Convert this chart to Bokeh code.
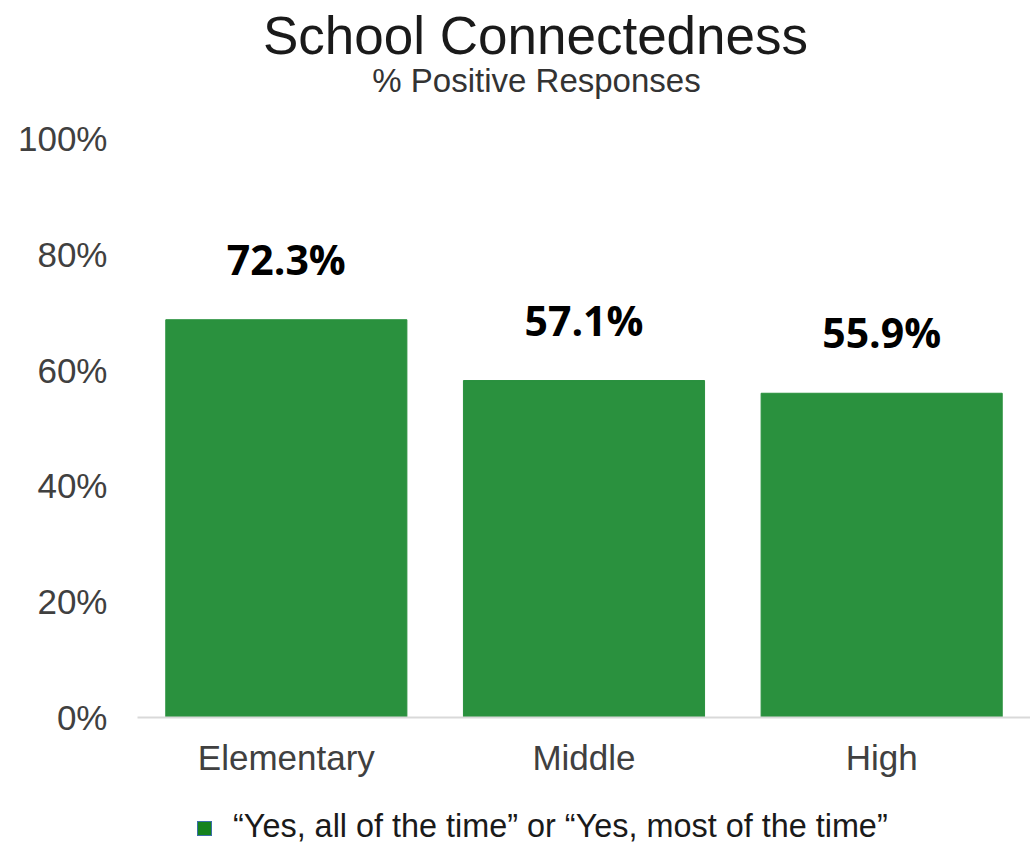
from bokeh.plotting import figure
from bokeh.layouts import column
from bokeh.models import (ColumnDataSource, Range1d, FixedTicker, PrintfTickFormatter,
                          Label, LabelSet, Div)
from bokeh.core.properties import value
from bokeh.embed import file_html
from bokeh.resources import INLINE

# ---- data ----
categories = ["Elementary", "Middle", "High"]
bar_values = [68.7, 58.2, 56.0]          # bar heights as drawn (%)
label_texts = ["72.3%", "57.1%", "55.9%"]  # printed data labels
y_ticks = [0, 20, 40, 60, 80, 100]
title_text = "School Connectedness"
subtitle_text = "% Positive Responses"
legend_label = "\u201cYes, all of the time\u201d or \u201cYes, most of the time\u201d"

BAR_COLOR = "#2A913E"
LEGEND_COLOR = "#15821E"
TEXT_GRAY = "#404040"

# ---- layout (pixels) ----
FIG_W, FIG_H = 1030, 800
FRAME_LEFT, FRAME_BOTTOM_BORDER = 137, 83
FRAME_H = FIG_H - FRAME_BOTTOM_BORDER          # frame spans from canvas top
PX_PER_100 = 579                                # pixels from 0% to 100%
Y_TOP = 100.0 * FRAME_H / PX_PER_100
CAT_W = (FIG_W - FRAME_LEFT) / len(categories)
LEGEND_H = 43


def y_at(px_from_top):
    return (FRAME_H - px_from_top) * 100.0 / PX_PER_100


def x_at(px):
    return (px - FRAME_LEFT) / CAT_W


source = ColumnDataSource(dict(cat=categories, val=bar_values, lab=label_texts))

p = figure(x_range=categories, y_range=Range1d(0, Y_TOP),
           width=FIG_W, height=FIG_H, output_backend="svg", toolbar_location=None,
           min_border_left=FRAME_LEFT, min_border_right=0, min_border_top=0,
           min_border_bottom=FRAME_BOTTOM_BORDER)

bars = p.vbar(x="cat", top="val", width=0.81, source=source,
              fill_color=BAR_COLOR, line_color=BAR_COLOR)

labels = LabelSet(x="cat", y="val", text="lab", source=source, y_offset=33,
                  text_align="center", text_baseline="bottom",
                  text_font=value("Open Sans"), text_font_style="bold",
                  text_font_size="41px", text_color="#000000")
p.add_layout(labels)

p.add_layout(Label(x=x_at(535), y=y_at(35), text=title_text,
                   text_align="center", text_baseline="middle",
                   text_font="Liberation Sans", text_font_size="53px",
                   text_color="#1a1a1a"))
p.add_layout(Label(x=x_at(536), y=y_at(80), text=subtitle_text,
                   text_align="center", text_baseline="middle",
                   text_font="Liberation Sans", text_font_size="33px",
                   text_color="#333333"))

p.outline_line_color = None
p.xgrid.grid_line_color = None
p.ygrid.grid_line_color = None
p.x_range.range_padding = 0

p.yaxis.ticker = FixedTicker(ticks=y_ticks)
p.yaxis.formatter = PrintfTickFormatter(format="%d%%")
p.yaxis.axis_line_color = None
p.yaxis.major_tick_line_color = None
p.yaxis.minor_tick_line_color = None
p.yaxis.major_label_text_font = "Liberation Sans"
p.yaxis.major_label_text_font_size = "35px"
p.yaxis.major_label_text_color = TEXT_GRAY
p.yaxis.major_label_standoff = 24

p.xaxis.axis_line_color = "#d9d9d9"
p.xaxis.axis_line_width = 2
p.xaxis.major_tick_line_color = None
p.xaxis.minor_tick_line_color = None
p.xaxis.major_label_text_font = "Liberation Sans"
p.xaxis.major_label_text_font_size = "35px"
p.xaxis.major_label_text_color = TEXT_GRAY
p.xaxis.major_label_standoff = 14

legend_html = (
    '<div style="box-sizing:border-box;display:flex;align-items:center;height:%dpx;'
    'padding-left:197px;padding-top:10px;line-height:33px;'
    'font-family:\'Liberation Sans\';font-size:32.4px;color:#1a1a1a;white-space:nowrap;">'
    '<span style="display:inline-block;position:relative;top:2px;width:15px;height:15px;'
    'background:%s;border:1px solid #3b6fa8;margin-right:21px;"></span>%s</div>'
) % (LEGEND_H, LEGEND_COLOR, legend_label)
legend_div = Div(text=legend_html, width=FIG_W, height=LEGEND_H, margin=0)

layout = column(p, legend_div, spacing=0)

open("out.html", "w").write(file_html(layout, INLINE))
